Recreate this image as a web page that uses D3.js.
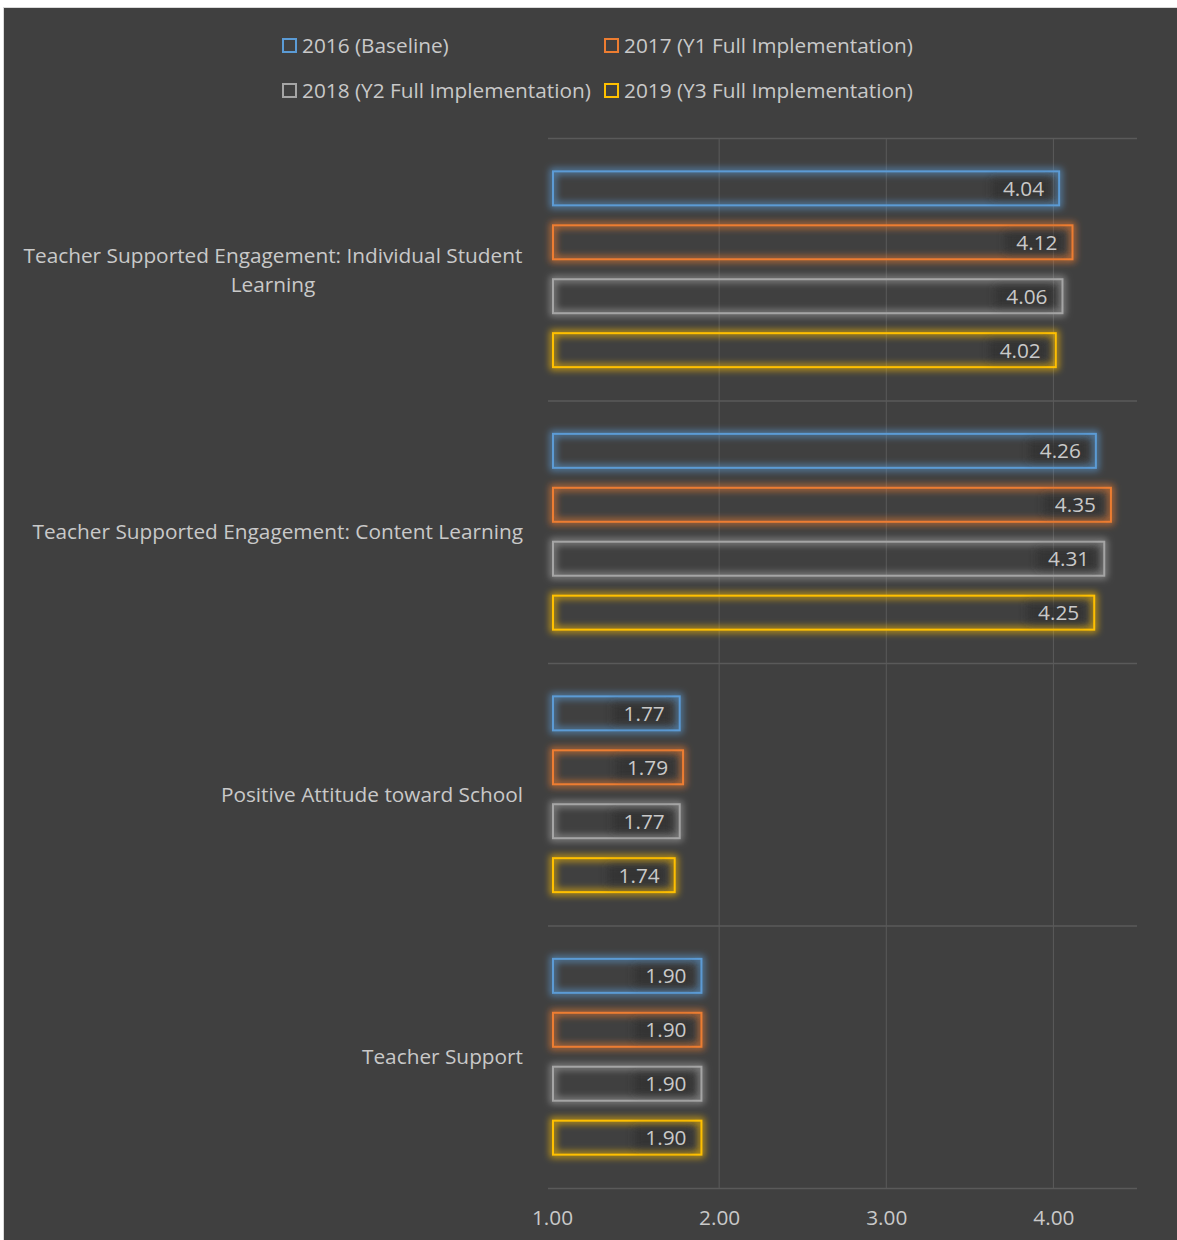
<!DOCTYPE html>
<html>
<head>
<meta charset="utf-8">
<script src="https://cdn.jsdelivr.net/npm/d3@7"></script>
<style>
  body { margin: 0; background: #fff; }
  text { font-family: "Open Sans", Lato, sans-serif; }
</style>
</head>
<body>
<div id="chart"></div>
<script>
const categories = [
  "Teacher Supported Engagement: Individual Student Learning",
  "Teacher Supported Engagement: Content Learning",
  "Positive Attitude toward School",
  "Teacher Support"
];
const seriesNames = ["2016 (Baseline)", "2017 (Y1 Full Implementation)", "2018 (Y2 Full Implementation)", "2019 (Y3 Full Implementation)"];
const seriesColors = ["#5b9bd5", "#ed7d31", "#a5a5a5", "#ffc000"];
const values2016 = [4.04, 4.26, 1.77, 1.90];
const values2017 = [4.12, 4.35, 1.79, 1.90];
const values2018 = [4.06, 4.31, 1.77, 1.90];
const values2019 = [4.02, 4.25, 1.74, 1.90];
const xTicks = [1, 2, 3, 4];

const allValues = [values2016, values2017, values2018, values2019];

let width = 1177;
let height = 1240;
let margin = { top: 138, right: 40, bottom: 52, left: 552 };
const textColor = "#c9c9c9";
const fontSize = "20.8px";

let svg = d3.select("#chart")
  .append("svg")
  .attr("width", width)
  .attr("height", height);

// glow filters, one per series colour
let defs = svg.append("defs");
seriesColors.forEach((c, i) => {
  let f = defs.append("filter").attr("id", "glow" + i)
    .attr("x", "-10%").attr("y", "-50%").attr("width", "120%").attr("height", "200%");
  f.append("feMorphology").attr("in", "SourceGraphic").attr("operator", "dilate").attr("radius", 1.5).attr("result", "thick");
  f.append("feGaussianBlur").attr("in", "thick").attr("stdDeviation", 3.5).attr("result", "blur");
  f.append("feComponentTransfer").attr("in", "blur").attr("result", "soft")
    .append("feFuncA").attr("type", "linear").attr("slope", 0.7);
  let m = f.append("feMerge");
  m.append("feMergeNode").attr("in", "soft");
  m.append("feMergeNode").attr("in", "SourceGraphic");
});
let halo = defs.append("filter").attr("id", "halo")
  .attr("x", "-20%").attr("y", "-40%").attr("width", "140%").attr("height", "180%");
halo.append("feGaussianBlur").attr("stdDeviation", 4);

// background panel
svg.append("rect")
  .attr("x", 3.5).attr("y", 7.5)
  .attr("width", width - 3).attr("height", height - 7)
  .attr("fill", "#404040")
  .attr("stroke", "#d9d9d9");

let xScale = d3.scaleLinear()
  .domain([1, 4.5])
  .range([margin.left, width - margin.right]);

let yScale = d3.scaleBand()
  .domain(categories)
  .range([margin.top, height - margin.bottom]);

let ySub = d3.scaleBand()
  .domain(seriesNames)
  .range([0, yScale.bandwidth()])
  .paddingInner(0.333)
  .paddingOuter(0.6);

// vertical gridlines
svg.append("g")
  .selectAll("line")
  .data(xTicks.slice(1))
  .enter()
  .append("line")
  .attr("x1", d => xScale(d)).attr("x2", d => xScale(d))
  .attr("y1", margin.top).attr("y2", height - margin.bottom)
  .attr("stroke", "#5a5a5a").attr("stroke-width", 1);

// category separators
let bounds = categories.map(c => yScale(c)).concat([height - margin.bottom]);
svg.append("g")
  .selectAll("line")
  .data(bounds)
  .enter()
  .append("line")
  .attr("x1", xScale(1) - 4).attr("x2", xScale(4.5))
  .attr("y1", d => d + 0.5).attr("y2", d => d + 0.5)
  .attr("stroke", "#5a5a5a").attr("stroke-width", 1.5);

// bars
seriesNames.forEach((s, si) => {
  let g = svg.append("g");
  let vals = allValues[si];
  g.selectAll("rect.bar")
    .data(categories)
    .enter()
    .append("rect")
    .attr("class", "bar")
    .attr("x", xScale(1) + 1)
    .attr("y", c => yScale(c) + ySub(s) + 1)
    .attr("width", (c, i) => xScale(vals[i]) - xScale(1) - 2)
    .attr("height", ySub.bandwidth() - 2)
    .attr("fill", "none")
    .attr("stroke", seriesColors[si])
    .attr("stroke-width", 2)
    .attr("filter", "url(#glow" + si + ")");

  // dark halo behind labels
  g.selectAll("rect.halo")
    .data(categories)
    .enter()
    .append("rect")
    .attr("class", "halo")
    .attr("x", (c, i) => xScale(vals[i]) - 68)
    .attr("y", c => yScale(c) + ySub(s) + 8)
    .attr("width", 58)
    .attr("height", ySub.bandwidth() - 16)
    .attr("fill", "#2e2e2e")
    .attr("opacity", 0.7)
    .attr("filter", "url(#halo)");

  g.selectAll("text")
    .data(categories)
    .enter()
    .append("text")
    .attr("x", (c, i) => xScale(vals[i]) - 16)
    .attr("y", c => yScale(c) + ySub(s) + ySub.bandwidth() / 2)
    .attr("dy", "0.36em")
    .attr("text-anchor", "end")
    .attr("fill", textColor)
    .style("font-size", fontSize)
    .text((c, i) => vals[i].toFixed(2));
});

// category labels
categories.forEach(c => {
  let cy = yScale(c) + yScale.bandwidth() / 2;
  let t = svg.append("text")
    .attr("fill", textColor)
    .style("font-size", fontSize);
  if (c.length > 50) {
    let words = c.split(" ");
    let l1 = words.slice(0, -1).join(" ");
    let l2 = words[words.length - 1];
    t.attr("text-anchor", "middle");
    t.append("tspan").attr("x", 273).attr("y", cy - 14).attr("dy", "0.36em").text(l1);
    t.append("tspan").attr("x", 273).attr("y", cy + 15).attr("dy", "0.36em").text(l2);
  } else {
    t.attr("text-anchor", "end")
      .attr("x", 523).attr("y", cy).attr("dy", "0.36em")
      .text(c);
  }
});

// x axis
let xAxis = svg.append("g")
  .attr("transform", "translate(0," + (height - margin.bottom) + ")")
  .call(d3.axisBottom(xScale).tickValues(xTicks).tickFormat(d3.format(".2f")).tickSize(0).tickPadding(22));
xAxis.select(".domain").remove();
xAxis.selectAll("text")
  .attr("fill", textColor)
  .style("font-size", fontSize)
  .style("font-family", "'Open Sans', Lato, sans-serif");

// legend
let legendPos = [[282, 45], [604, 45], [282, 90], [604, 90]];
seriesNames.forEach((s, i) => {
  let lg = svg.append("g").attr("transform", "translate(" + legendPos[i][0] + "," + legendPos[i][1] + ")");
  lg.append("rect")
    .attr("x", 1).attr("y", -6)
    .attr("width", 13).attr("height", 13)
    .attr("fill", "none")
    .attr("stroke", seriesColors[i])
    .attr("stroke-width", 2);
  lg.append("text")
    .attr("x", 20).attr("y", 0).attr("dy", "0.36em")
    .attr("fill", textColor)
    .style("font-size", fontSize)
    .text(s);
});
</script>
</body>
</html>
